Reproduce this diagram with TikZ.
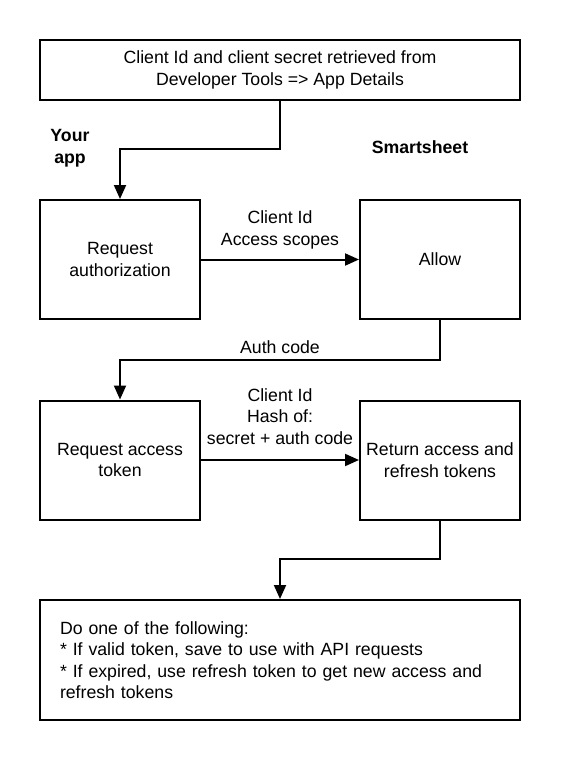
\documentclass[tikz,border=0pt]{standalone}
\usepackage{fontspec}
\setmainfont{Liberation Sans}
\usetikzlibrary{arrows.meta}
\newcommand{\diagfont}{\fontsize{17.7}{21.5}\selectfont}
\tikzstyle{box}=[draw=black, line width=2pt, minimum width=160pt, minimum height=119pt, align=center, inner sep=2pt]
\tikzstyle{wide}=[draw=black, line width=2pt, minimum width=480pt, minimum height=60pt, align=center]
\tikzstyle{flow}=[line width=2pt, -{Triangle[length=14pt, width=12pt]}]
\tikzstyle{lane}=[font=\diagfont\bfseries, align=center]

\begin{document}
\begin{tikzpicture}[x=1pt, y=-1pt, font=\diagfont]
      \useasboundingbox (0,0) rectangle (560,760);

      \node[wide] (src) at (280,70) {Client Id and client secret retrieved from\\Developer Tools => App Details};

      \node[lane] (yours) at (70,148) {Your\\app};
      \node[lane] (smart) at (420,147) {Smartsheet};

      \node[box] (reqauth) at (120,259.5) {Request\\authorization};
      \node[box] (allow) at (440,259.5) {Allow};

      \node[box] (reqtok) at (120,460) {Request access\\token};
      \node[box] (ret) at (440,460) {Return access and\\refresh tokens};

      \node[draw=black, line width=2pt, minimum height=120pt, text width=440pt, inner xsep=20pt, align=left] (todo) at (280,660) {Do one of the following:\\{*} If valid token, save to use with API requests\\{*} If expired, use refresh token to get new access and refresh tokens};

      \draw[flow] (src.south) |- (120,149) -- (reqauth.north);
      \draw[flow] (reqauth) -- node[above=6pt, align=center] {Client Id\\Access scopes} (allow);
      \draw[flow] (allow.south) |- node[pos=0.75, above=2pt] {Auth code} (120,360) -- (reqtok.north);
      \draw[flow] (reqtok) -- node[above=11pt, align=center] {Client Id\\Hash of:\\secret + auth code} (ret);
      \draw[flow] (ret.south) |- (280,559) -- (todo.north);
    \end{tikzpicture}
\end{document}
